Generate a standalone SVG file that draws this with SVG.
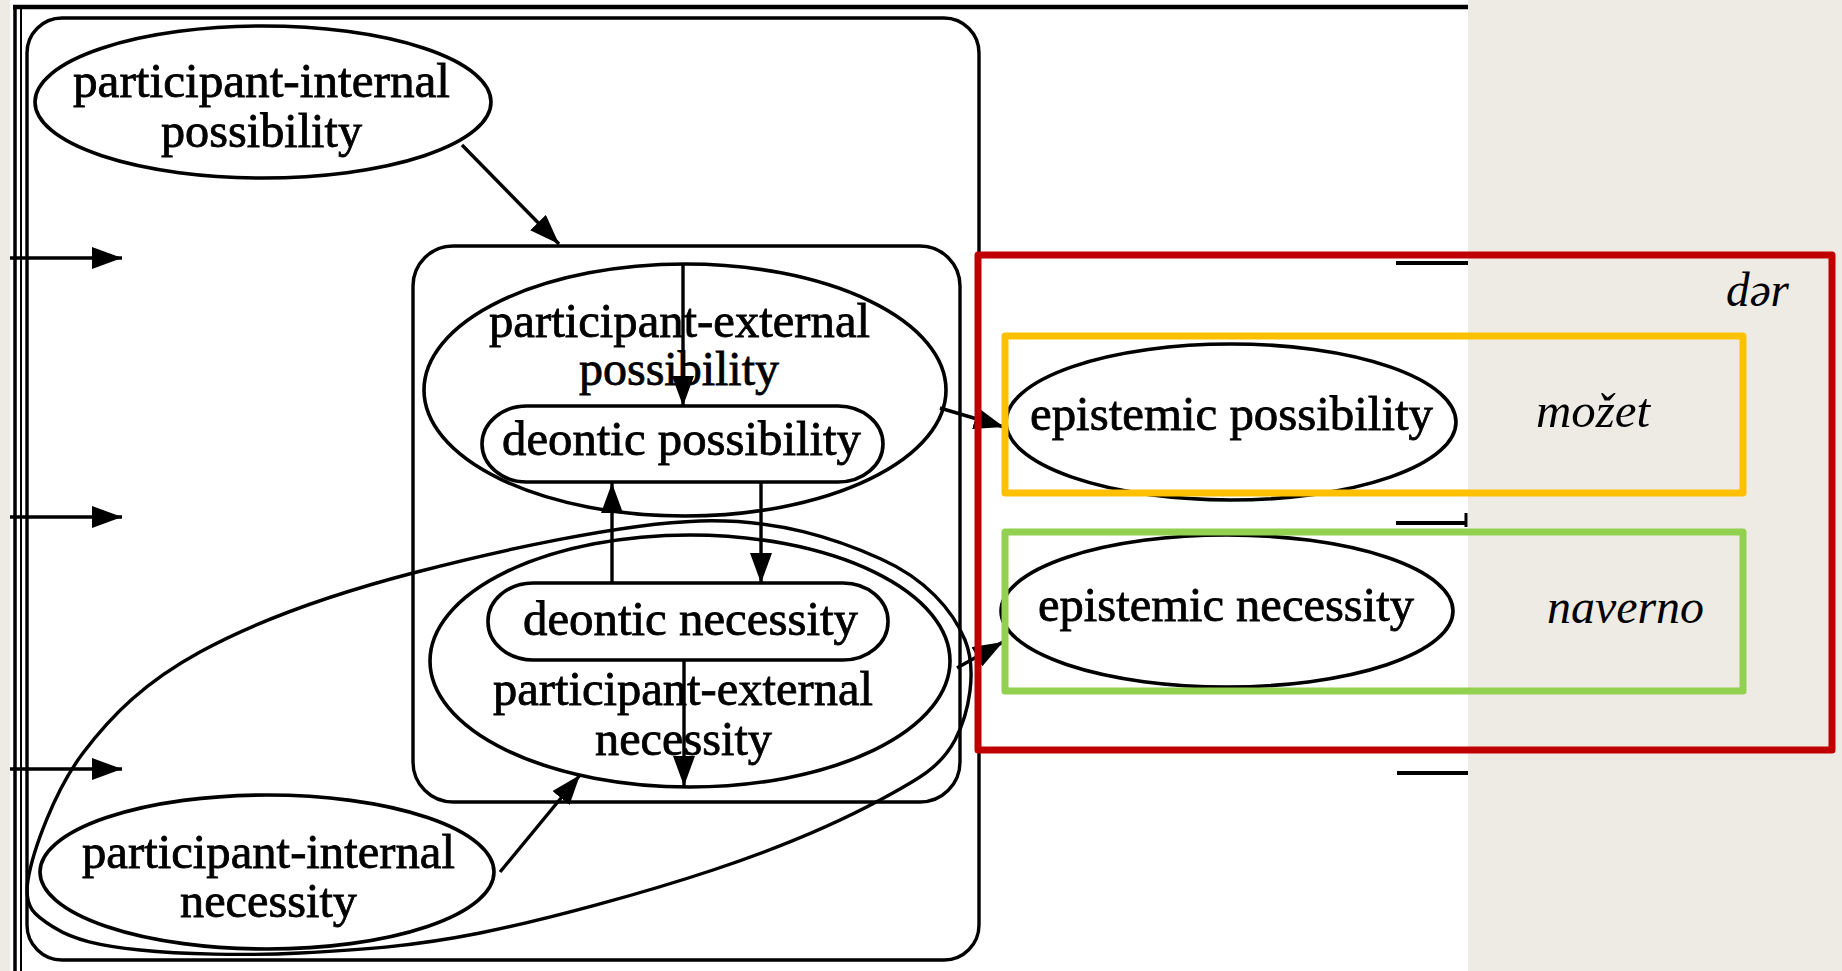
<svg xmlns="http://www.w3.org/2000/svg" width="1842" height="971" viewBox="0 0 1842 971">
<defs>
<style>
.bg{fill:#EEEBE4}
.ln{fill:none;stroke:#000;stroke-width:3.4}
.node{fill:none;stroke:#000;stroke-width:3.6}
.t{font-family:"Liberation Serif","Times New Roman",serif;font-size:48px;fill:#000;text-anchor:middle;stroke:#000;stroke-width:0.8}
.it{font-family:"Liberation Serif","Times New Roman",serif;font-size:48px;font-style:italic;fill:#000}
.box{fill:none;stroke-width:7;stroke-linejoin:round}
</style>
<marker id="ah" viewBox="0 0 30 22" refX="30" refY="11" markerWidth="30" markerHeight="22" markerUnits="userSpaceOnUse" orient="auto">
<path d="M0,0 L30,11 L0,22 z" fill="#000"/>
</marker>
</defs>
<rect x="0" y="0" width="1842" height="971" class="bg"/>
<rect x="10" y="0" width="1458" height="971" fill="#FFFFFF"/>
<g id="frame">
<line x1="13" y1="7" x2="1468" y2="7" stroke="#000" stroke-width="4.5"/>
<line x1="15" y1="5" x2="15" y2="971" stroke="#000" stroke-width="3.5"/>
<line x1="21" y1="5" x2="21" y2="971" stroke="#000" stroke-width="2"/>
<rect x="27" y="18" width="952" height="942" rx="35" ry="35" class="ln" stroke-width="2.8"/>
<line x1="1396" y1="263" x2="1468" y2="263" stroke="#000" stroke-width="4"/>
<line x1="1396" y1="523" x2="1466" y2="523" stroke="#000" stroke-width="4"/>
<line x1="1466" y1="513" x2="1466" y2="527" stroke="#000" stroke-width="3"/>
<line x1="1397" y1="773" x2="1468" y2="773" stroke="#000" stroke-width="4"/>
</g>
<g id="inner-cluster">
<rect x="413" y="246" width="547" height="556" rx="40" ry="40" class="ln"/>
</g>
<g id="pip">
<ellipse cx="263" cy="102" rx="228" ry="76" class="node"/>
<text class="t" x="261.5" y="97" textLength="377" lengthAdjust="spacingAndGlyphs">participant-internal</text>
<text class="t" x="261.5" y="147" textLength="201" lengthAdjust="spacingAndGlyphs">possibility</text>
</g>
<g id="pep">
<ellipse cx="685" cy="390" rx="261" ry="126" class="node"/>
<text class="t" x="679.5" y="337" textLength="381" lengthAdjust="spacingAndGlyphs">participant-external</text>
<text class="t" x="679" y="385" textLength="200" lengthAdjust="spacingAndGlyphs">possibility</text>
</g>
<g id="deontic-possibility">
<rect x="482" y="406" width="401" height="76" rx="45" ry="38" class="node"/>
<text class="t" x="681.5" y="455" textLength="359" lengthAdjust="spacingAndGlyphs">deontic possibility</text>
</g>
<g id="pen">
<ellipse cx="690" cy="661" rx="260" ry="126" class="node"/>
<text class="t" x="683" y="705" textLength="380" lengthAdjust="spacingAndGlyphs">participant-external</text>
<text class="t" x="683.5" y="755" textLength="177" lengthAdjust="spacingAndGlyphs">necessity</text>
</g>
<g id="deontic-necessity">
<rect x="488" y="583" width="400" height="77" rx="45" ry="38" class="node"/>
<text class="t" x="690.5" y="635" textLength="335" lengthAdjust="spacingAndGlyphs">deontic necessity</text>
</g>
<g id="necessity-cluster">
<path class="ln" d="M28,880 C32.7,850.8 54.3,791 83,753 C111.7,715 145,682 200,652 C255,622 329.7,594.8 413,573 C496.3,551.2 622,523.3 700,521 C778,518.7 836.8,539.2 881,559 C925.2,578.8 952.7,609.8 965,640 C977.3,670.2 969.2,713.3 955,740 C940.8,766.7 920.3,778.3 880,800 C839.7,821.7 779.7,847.8 713,870 C646.3,892.2 548.8,919.2 480,933 C411.2,946.8 356.7,950.2 300,953 C243.3,955.8 180.8,954.2 140,950 C99.2,945.8 73.7,939.7 55,928 C36.3,916.3 23.3,909.2 28,880 Z"/>
</g>
<g id="pin">
<ellipse cx="267" cy="872" rx="227" ry="77" class="node"/>
<text class="t" x="268.5" y="868" textLength="373" lengthAdjust="spacingAndGlyphs">participant-internal</text>
<text class="t" x="268.5" y="917" textLength="177" lengthAdjust="spacingAndGlyphs">necessity</text>
</g>
<g id="epistemic-possibility">
<ellipse cx="1231" cy="422" rx="225" ry="78" class="node"/>
<text class="t" x="1231.5" y="430" textLength="403" lengthAdjust="spacingAndGlyphs">epistemic possibility</text>
</g>
<g id="epistemic-necessity">
<ellipse cx="1227" cy="611" rx="226" ry="76" class="node"/>
<text class="t" x="1226" y="621" textLength="376" lengthAdjust="spacingAndGlyphs">epistemic necessity</text>
</g>
<g id="connectors">
<line class="ln" x1="462" y1="145" x2="559" y2="244" marker-end="url(#ah)"/>
<line class="ln" x1="10" y1="258" x2="122" y2="258" marker-end="url(#ah)"/>
<line class="ln" x1="10" y1="517" x2="122" y2="517" marker-end="url(#ah)"/>
<line class="ln" x1="10" y1="769" x2="122" y2="769" marker-end="url(#ah)"/>
<line class="ln" x1="683" y1="265" x2="683" y2="406" marker-end="url(#ah)"/>
<line class="ln" x1="612" y1="583" x2="612" y2="483" marker-end="url(#ah)"/>
<line class="ln" x1="761" y1="483" x2="761" y2="583" marker-end="url(#ah)"/>
<line class="ln" x1="684" y1="660" x2="684" y2="786" marker-end="url(#ah)"/>
<line class="ln" x1="500" y1="872" x2="580" y2="775" marker-end="url(#ah)"/>
<line class="ln" x1="940" y1="408" x2="1004" y2="427" marker-end="url(#ah)"/>
<line class="ln" x1="957" y1="668" x2="1003" y2="642" marker-end="url(#ah)"/>
</g>
<g id="highlights">
<rect class="box" x="978" y="255" width="854" height="495" stroke="#C00000"/>
<rect class="box" x="1005" y="336" width="738" height="157" stroke="#FFC000"/>
<rect class="box" x="1005" y="532" width="738" height="159" stroke="#92D050"/>
<text class="it" x="1726" y="306" textLength="63" lengthAdjust="spacingAndGlyphs">dər</text>
<text class="it" x="1536" y="427" textLength="114" lengthAdjust="spacingAndGlyphs">možet</text>
<text class="it" x="1547" y="623" textLength="157" lengthAdjust="spacingAndGlyphs">naverno</text>
</g>
</svg>
